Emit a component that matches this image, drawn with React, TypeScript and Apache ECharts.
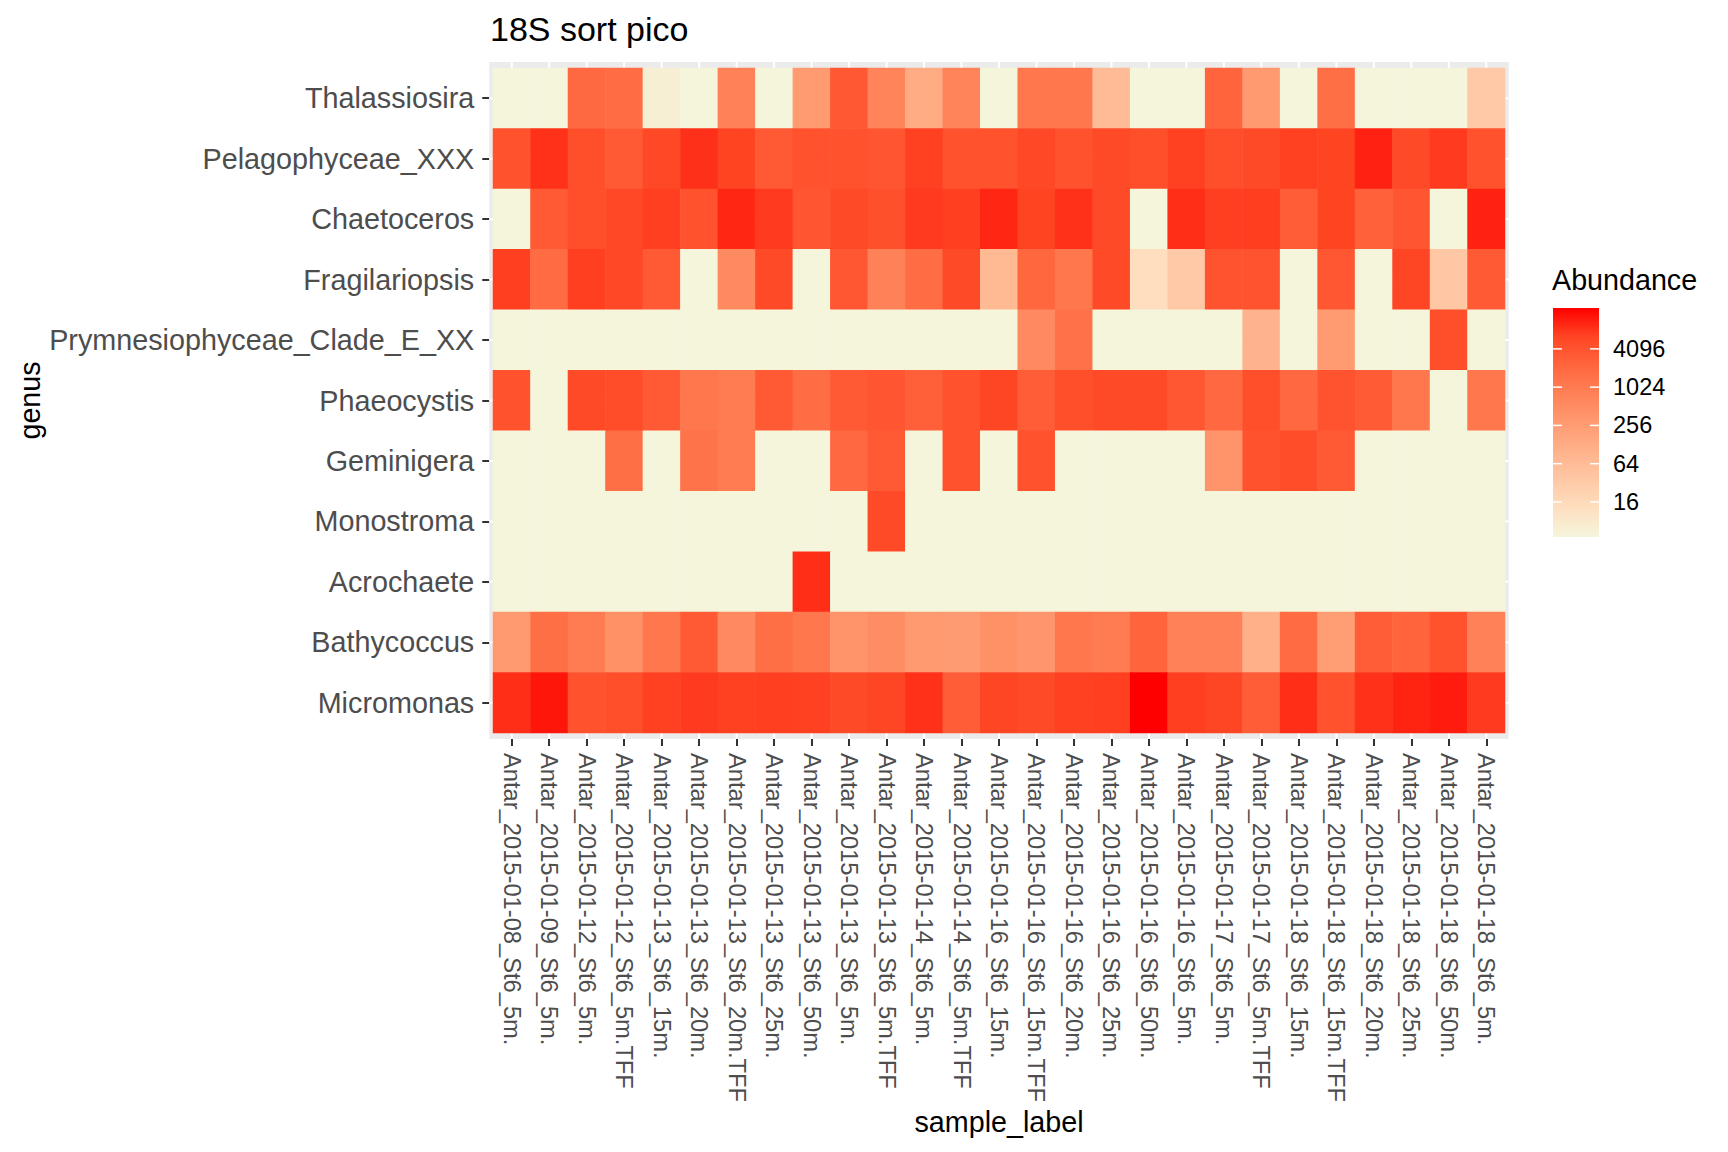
import { useEffect, useRef } from 'react';
import * as echarts from 'echarts';

// columns (x axis), in plotted order
const samples = [
  'Antar_2015-01-08_St6_5m.',
  'Antar_2015-01-09_St6_5m.',
  'Antar_2015-01-12_St6_5m.',
  'Antar_2015-01-12_St6_5m.TFF',
  'Antar_2015-01-13_St6_15m.',
  'Antar_2015-01-13_St6_20m.',
  'Antar_2015-01-13_St6_20m.TFF',
  'Antar_2015-01-13_St6_25m.',
  'Antar_2015-01-13_St6_50m.',
  'Antar_2015-01-13_St6_5m.',
  'Antar_2015-01-13_St6_5m.TFF',
  'Antar_2015-01-14_St6_5m.',
  'Antar_2015-01-14_St6_5m.TFF',
  'Antar_2015-01-16_St6_15m.',
  'Antar_2015-01-16_St6_15m.TFF',
  'Antar_2015-01-16_St6_20m.',
  'Antar_2015-01-16_St6_25m.',
  'Antar_2015-01-16_St6_50m.',
  'Antar_2015-01-16_St6_5m.',
  'Antar_2015-01-17_St6_5m.',
  'Antar_2015-01-17_St6_5m.TFF',
  'Antar_2015-01-18_St6_15m.',
  'Antar_2015-01-18_St6_15m.TFF',
  'Antar_2015-01-18_St6_20m.',
  'Antar_2015-01-18_St6_25m.',
  'Antar_2015-01-18_St6_50m.',
  'Antar_2015-01-18_St6_5m.',
];

// rows, top to bottom
const genera = [
  'Thalassiosira',
  'Pelagophyceae_XXX',
  'Chaetoceros',
  'Fragilariopsis',
  'Prymnesiophyceae_Clade_E_XX',
  'Phaeocystis',
  'Geminigera',
  'Monostroma',
  'Acrochaete',
  'Bathycoccus',
  'Micromonas',
];

// read abundances (0 = not detected)
const thalassiosira = [0, 0, 2000, 1700, 6, 0, 800, 0, 280, 3500, 700, 130, 700, 0, 1200, 1200, 65, 0, 0, 2400, 300, 0, 1600, 0, 0, 0, 35];
const pelagophyceae = [4300, 8500, 4800, 3300, 5600, 8700, 6500, 3300, 4300, 4300, 3800, 6800, 4300, 4300, 5800, 4300, 5400, 4800, 6800, 4800, 5500, 6800, 6500, 11000, 5400, 7500, 4300];
const chaetoceros = [0, 3300, 4800, 5800, 7000, 4300, 10000, 7500, 3800, 5500, 4500, 7500, 7000, 10000, 6500, 8500, 5500, 0, 9000, 7000, 7200, 3000, 6500, 2600, 3800, 0, 11000];
const fragilariopsis = [7000, 1800, 7000, 5800, 3300, 0, 550, 5500, 0, 3600, 800, 1700, 5500, 70, 2200, 1200, 5500, 13, 35, 4200, 4200, 0, 3600, 0, 6200, 38, 3300];
const prymnesiophyceae = [0, 0, 0, 0, 0, 0, 0, 0, 0, 0, 0, 0, 0, 0, 550, 1500, 0, 0, 0, 0, 95, 0, 280, 0, 0, 4800, 0];
const phaeocystis = [4300, 0, 5500, 5000, 3300, 1200, 1000, 3300, 1700, 3300, 3800, 2700, 4300, 6200, 3000, 4800, 5500, 5500, 3600, 2100, 4800, 2100, 4200, 3200, 1200, 0, 1200];
const geminigera = [0, 0, 0, 1600, 0, 1400, 1000, 0, 0, 2100, 3300, 0, 4300, 0, 4300, 0, 0, 0, 0, 380, 4300, 5000, 3300, 0, 0, 0, 0];
const monostroma = [0, 0, 0, 0, 0, 0, 0, 0, 0, 0, 5500, 0, 0, 0, 0, 0, 0, 0, 0, 0, 0, 0, 0, 0, 0, 0, 0];
const acrochaete = [0, 0, 0, 0, 0, 0, 0, 0, 9000, 0, 0, 0, 0, 0, 0, 0, 0, 0, 0, 0, 0, 0, 0, 0, 0, 0, 0];
const bathycoccus = [300, 1600, 1000, 420, 1200, 3300, 550, 1600, 1200, 380, 480, 300, 270, 420, 350, 1200, 1000, 2400, 800, 800, 110, 1800, 250, 3000, 2400, 4300, 800];
const micromonas = [9000, 13000, 4300, 4800, 6800, 7500, 6800, 7000, 6800, 5500, 6200, 8500, 3000, 6200, 5500, 6800, 7000, 18000, 7000, 6200, 3000, 9000, 4300, 8500, 10500, 12000, 7500];

const rows = [
  thalassiosira, pelagophyceae, chaetoceros, fragilariopsis, prymnesiophyceae,
  phaeocystis, geminigera, monostroma, acrochaete, bathycoccus, micromonas,
];

const legendBreaks = [16, 64, 256, 1024, 4096];
const abundanceMin = 4.5;
const abundanceMax = 18000;

// beige -> red, interpolated in Lab like ggplot's scale_fill_gradient
const palette = ['#F5F5DC', '#FEDFC0', '#FFC8A5', '#FFB28B', '#FF9A71', '#FF8157', '#FF663E', '#FF4523', '#FF0000'];

const font = '"Liberation Sans", Arial, Helvetica, sans-serif';

export default function App() {
  const ref = useRef<HTMLDivElement>(null);

  useEffect(() => {
    if (!ref.current) return undefined;
    const chart = echarts.init(ref.current, undefined, { renderer: 'svg' });

    const grid = { left: 493, top: 68, width: 1012, height: 665 };
    const bandW = grid.width / samples.length;
    const bandH = grid.height / genera.length;
    const padX = bandW * 0.1;
    const padY = bandH * 0.1;
    const panel = {
      x: grid.left - padX,
      y: grid.top - padY,
      width: grid.width + 2 * padX,
      height: grid.height + 2 * padY,
    };

    const logMin = Math.log2(abundanceMin);
    const logMax = Math.log2(abundanceMax);

    const data: number[][] = [];
    rows.forEach((values, r) => {
      values.forEach((v, c) => {
        data.push([c, r, Math.log2(Math.max(v, abundanceMin)), v]);
      });
    });

    const bar = { x: 1553, y: 308, width: 46, height: 229 };
    const breakY = (v: number) => bar.y + bar.height - ((Math.log2(v) - logMin) / (logMax - logMin)) * bar.height;

    const gridLines: any[] = [];
    samples.forEach((_, i) => {
      const x = grid.left + (i + 0.5) * bandW;
      gridLines.push({
        type: 'line', silent: true, z: 1,
        shape: { x1: x, y1: panel.y, x2: x, y2: panel.y + panel.height },
        style: { stroke: '#FFFFFF', lineWidth: 2 },
      });
    });
    genera.forEach((_, i) => {
      const y = grid.top + (i + 0.5) * bandH;
      gridLines.push({
        type: 'line', silent: true, z: 1,
        shape: { x1: panel.x, y1: y, x2: panel.x + panel.width, y2: y },
        style: { stroke: '#FFFFFF', lineWidth: 2 },
      });
    });

    const legendItems: any[] = [
      {
        type: 'text', silent: true, x: 1552, y: 280,
        style: { text: 'Abundance', fontSize: 28.7, fontFamily: font, fill: '#000000', align: 'left', verticalAlign: 'middle' },
      },
      {
        type: 'rect', silent: true,
        shape: { ...bar },
        style: {
          fill: {
            type: 'linear', x: 0, y: 1, x2: 0, y2: 0,
            colorStops: palette.map((color, i) => ({ offset: i / (palette.length - 1), color })),
          },
        },
      },
    ];
    legendBreaks.forEach((b) => {
      const y = breakY(b);
      legendItems.push(
        { type: 'line', silent: true, z: 2, shape: { x1: bar.x, y1: y, x2: bar.x + 9, y2: y }, style: { stroke: '#FFFFFF', lineWidth: 1.5 } },
        { type: 'line', silent: true, z: 2, shape: { x1: bar.x + bar.width - 9, y1: y, x2: bar.x + bar.width, y2: y }, style: { stroke: '#FFFFFF', lineWidth: 1.5 } },
        {
          type: 'text', silent: true, x: 1613, y,
          style: { text: String(b), fontSize: 23.5, fontFamily: font, fill: '#000000', align: 'left', verticalAlign: 'middle' },
        },
      );
    });

    chart.setOption({
      animation: false,
      backgroundColor: '#FFFFFF',
      grid: { ...grid, show: false, outerBoundsMode: 'none' },
      xAxis: {
        type: 'category',
        data: samples,
        offset: padY,
        axisLine: { show: false },
        splitLine: { show: false },
        axisTick: { show: true, alignWithLabel: true, interval: 0, length: 7, lineStyle: { color: '#333333', width: 2 } },
        axisLabel: { interval: 0, rotate: -90, margin: 14, fontSize: 23.7, fontFamily: font, color: '#4D4D4D' },
      },
      yAxis: {
        type: 'category',
        data: genera,
        inverse: true,
        offset: padX,
        axisLine: { show: false },
        splitLine: { show: false },
        axisTick: { show: true, alignWithLabel: true, interval: 0, length: 7, lineStyle: { color: '#333333', width: 2 } },
        axisLabel: { interval: 0, margin: 15, fontSize: 28.75, fontFamily: font, color: '#4D4D4D' },
      },
      visualMap: {
        show: false,
        type: 'continuous',
        dimension: 2,
        min: logMin,
        max: logMax,
        inRange: { color: palette },
      },
      graphic: [
        {
          type: 'rect', silent: true, z: 0,
          shape: panel,
          style: { fill: '#EBEBEB' },
        },
        ...gridLines,
        {
          type: 'text', silent: true, x: 490, y: 29,
          style: { text: '18S sort pico', fontSize: 34, fontFamily: font, fill: '#000000', align: 'left', verticalAlign: 'middle' },
        },
        {
          type: 'text', silent: true, x: 30, y: panel.y + panel.height / 2, rotation: Math.PI / 2,
          style: { text: 'genus', fontSize: 28.7, fontFamily: font, fill: '#000000', align: 'center', verticalAlign: 'middle' },
        },
        {
          type: 'text', silent: true, x: panel.x + panel.width / 2, y: 1122,
          style: { text: 'sample_label', fontSize: 28.7, fontFamily: font, fill: '#000000', align: 'center', verticalAlign: 'middle' },
        },
        ...legendItems,
      ],
      series: [
        {
          type: 'heatmap',
          z: 3,
          data,
          itemStyle: { borderWidth: 0 },
          emphasis: { disabled: true },
        },
      ],
    });

    return () => chart.dispose();
  }, []);

  return (
    <div
      ref={ref}
      style={{ position: 'absolute', left: 0, top: 0, width: 1728, height: 1152 }}
    />
  );
}
